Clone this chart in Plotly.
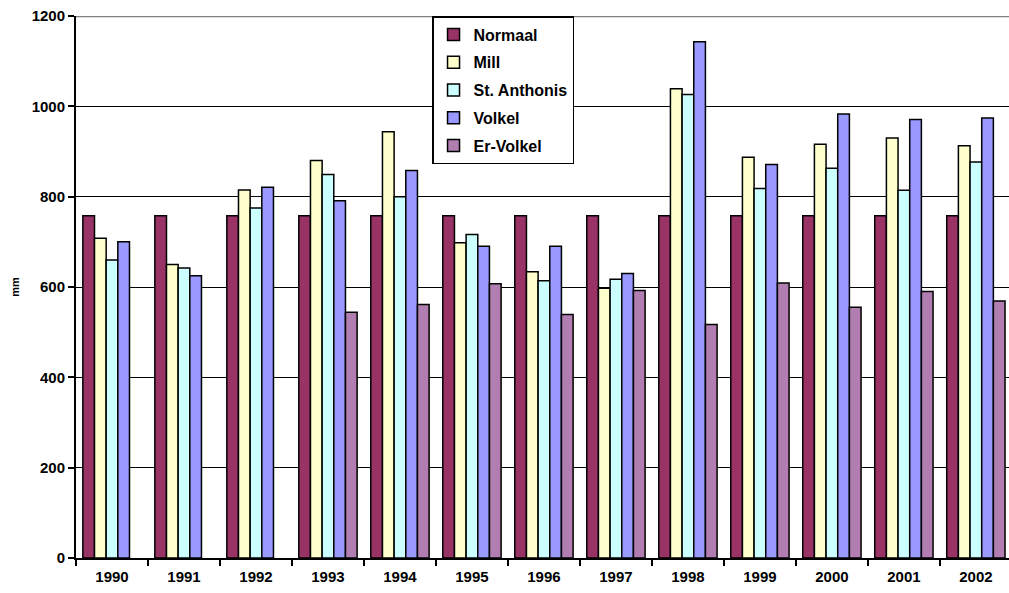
import plotly.graph_objects as go

# Yearly precipitation (mm) per station
years = ["1990", "1991", "1992", "1993", "1994", "1995", "1996",
         "1997", "1998", "1999", "2000", "2001", "2002"]
normaal = [758] * 13
mill = [708, 650, 815, 880, 944, 698, 634, 597, 1039, 887, 916, 930, 913]
st_anthonis = [660, 642, 775, 849, 800, 716, 614, 617, 1026, 818, 863, 814, 877]
volkel = [700, 625, 821, 791, 858, 690, 690, 630, 1143, 871, 983, 971, 974]
er_volkel = [None, None, None, 544, 561, 607, 539, 592, 517, 609, 555, 590, 569]

series = [
    ("Normaal", normaal, "#993366"),
    ("Mill", mill, "#FFFFCC"),
    ("St. Anthonis", st_anthonis, "#CCFFFF"),
    ("Volkel", volkel, "#9999FF"),
    ("Er-Volkel", er_volkel, "#B07EB0"),
]

font_family = "Liberation Sans, Arial, sans-serif"

fig = go.Figure()
for name, vals, color in series:
    fig.add_trace(go.Bar(
        x=years, y=vals, name=name, legendgroup=name,
        marker=dict(color=color, line=dict(color="black", width=1.5)),
    ))

fig.update_layout(
    width=1009, height=593,
    margin=dict(l=76, r=0, t=16, b=35),
    paper_bgcolor="white", plot_bgcolor="white",
    barmode="group", bargap=0.19, bargroupgap=0,
    font=dict(family=font_family, color="black"),
    legend=dict(
        x=0.3816, y=1, xanchor="left", yanchor="top",
        bgcolor="white", bordercolor="black", borderwidth=1.5,
        font=dict(size=16, family=font_family, weight="bold"),
        tracegroupgap=4, traceorder="grouped",
        itemwidth=30,
    ),
    xaxis=dict(
        type="category", range=[-0.5, 12.46],
        showline=True, linecolor="black", linewidth=2,
        ticks="outside", tickson="boundaries", ticklen=6,
        tickwidth=2, tickcolor="black",
        tickfont=dict(size=15, weight="bold"),
        ticklabelstandoff=4,
        showgrid=False,
    ),
    yaxis=dict(
        range=[0, 1200], dtick=200,
        showline=True, linecolor="black", linewidth=2,
        ticks="outside", ticklen=6, tickwidth=2, tickcolor="black",
        tickfont=dict(size=15, weight="bold"),
        showgrid=True, gridcolor="black", gridwidth=1,
        zeroline=False,
        title=dict(text="mm", font=dict(size=11, weight="bold"), standoff=10),
    ),
    shapes=[dict(
        type="line", xref="paper", yref="y", x0=0, x1=1, y0=1200, y1=1200,
        line=dict(color="#808080", width=2.5), layer="below",
    )],
)

fig.write_html("out.html")
